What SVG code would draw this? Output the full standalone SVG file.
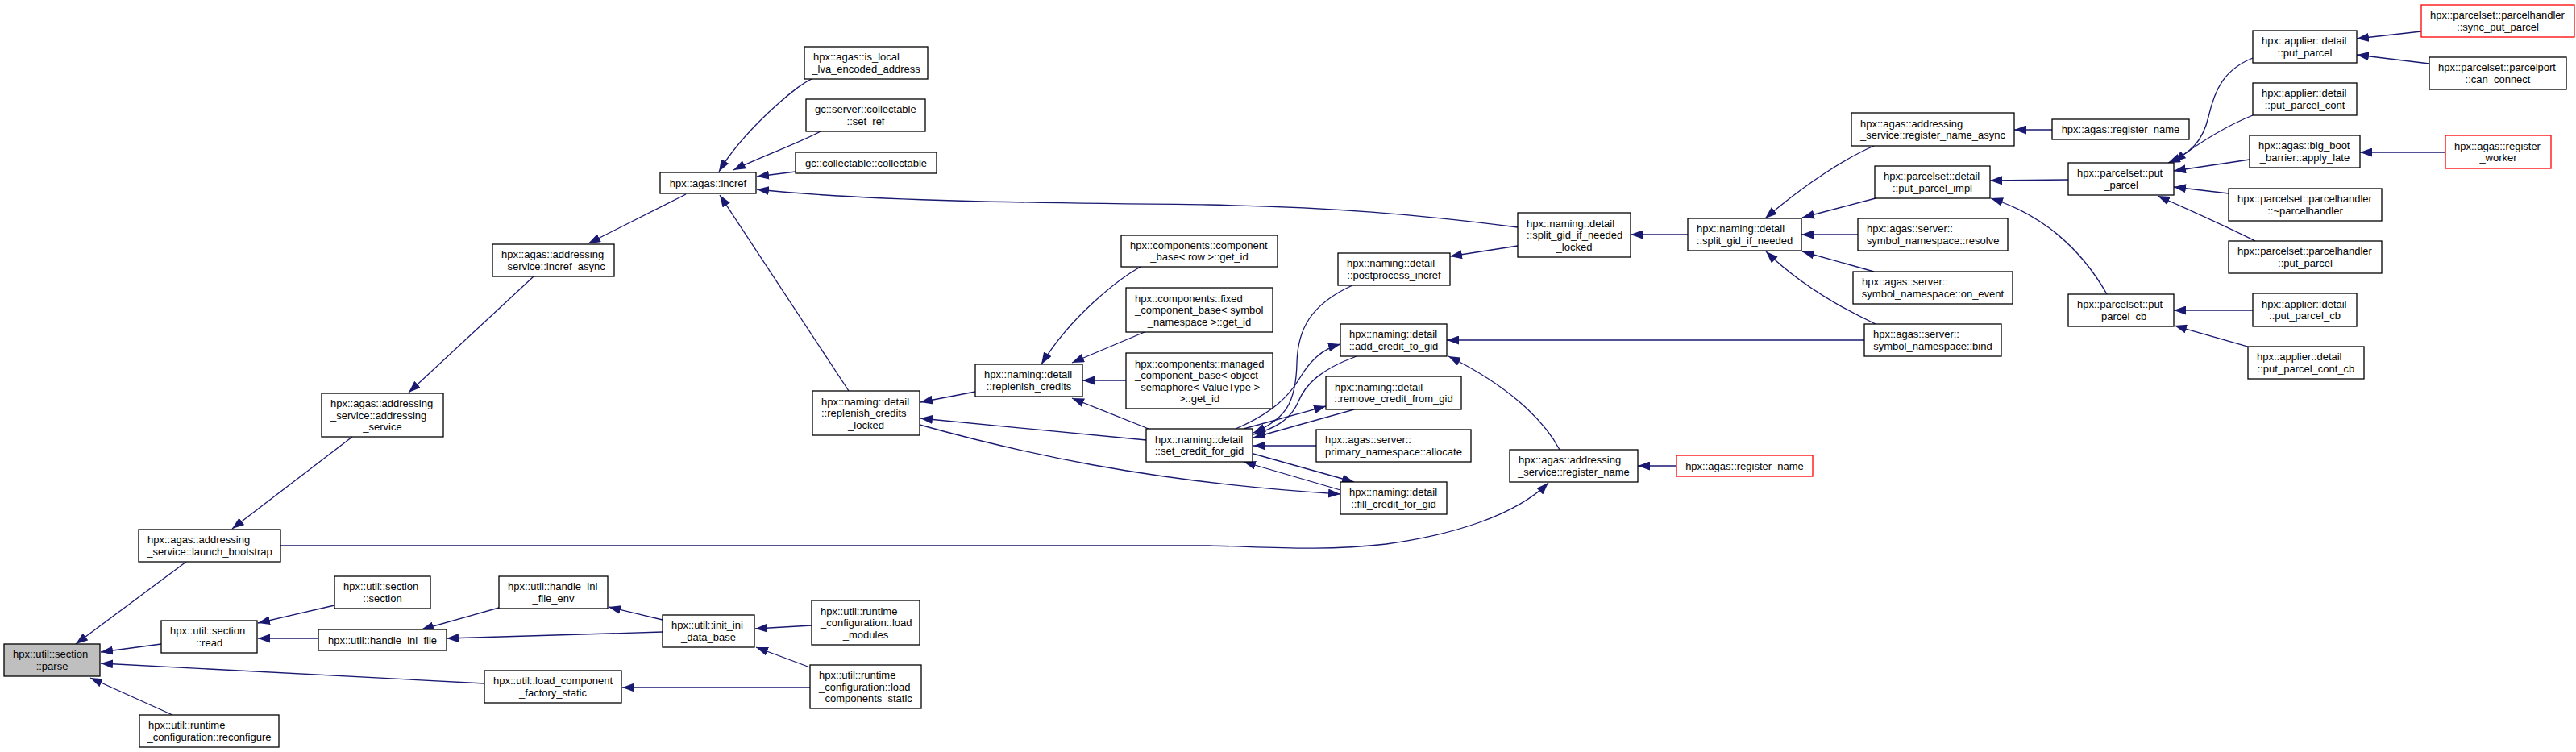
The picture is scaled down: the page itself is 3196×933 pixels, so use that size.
<svg xmlns="http://www.w3.org/2000/svg" width="3196" height="933" viewBox="0 0 3196 933">
<defs>
<marker id="ah" markerUnits="userSpaceOnUse" markerWidth="15" markerHeight="11" viewBox="0 0 15 11" refX="15" refY="5.5" orient="auto"><path d="M0,0 L15,5.5 L0,11 z" fill="#191970"/></marker>
<style>
.n rect{fill:#fff;stroke:#000;stroke-width:1.3}
.r rect{stroke:#f00}
.g rect{fill:#bfbfbf}
text{font-family:"Liberation Sans",Arial,Helvetica,sans-serif;font-size:13px;fill:#000}
.c{text-anchor:middle}
#edges path{fill:none;stroke:#191970;stroke-width:1.3;marker-end:url(#ah)}
</style>
</defs>
<rect width="3196" height="933" fill="#fff"/>
<g id="edges">
<path d="M231,697 L94,799"/>
<path d="M200,799 L125,809"/>
<path d="M601,848 L125,823"/>
<path d="M214,887 L112,841"/>
<path d="M437,542 L288,656"/>
<path d="M662,343 L507,487"/>
<path d="M851,241 L730,302"/>
<path d="M1007,98 C985,108 920,165 892,213"/>
<path d="M1018,163 C990,178 940,196 910,211"/>
<path d="M987,213 L939,219"/>
<path d="M1883,282 C1760,266 1650,257 1500,254 C1300,252 1080,250 939,235"/>
<path d="M1053,485 L893,242"/>
<path d="M1210,486 L1142,499"/>
<path d="M1422,546 L1142,519"/>
<path d="M1141,527 C1260,560 1420,598 1663,613"/>
<path d="M1397,472 L1343,472"/>
<path d="M1415,331 C1390,345 1330,390 1292,452"/>
<path d="M1420,412 L1330,450"/>
<path d="M1425,532 L1330,494"/>
<path d="M1533,532 C1580,512 1600,490 1612,470 C1625,448 1640,433 1663,427"/>
<path d="M1678,354 C1625,378 1610,410 1609,450 C1608,500 1595,520 1555,537"/>
<path d="M1683,442 C1640,458 1620,475 1610,500 C1600,522 1580,532 1555,539"/>
<path d="M1543,532 L1645,504"/>
<path d="M1680,508 L1555,543"/>
<path d="M1633,553 L1555,553"/>
<path d="M1555,563 L1680,598"/>
<path d="M1663,608 L1543,573"/>
<path d="M1883,305 L1799,318"/>
<path d="M2094,291 L2023,291"/>
<path d="M2313,422 L1795,422"/>
<path d="M1935,558 C1915,520 1870,478 1797,442"/>
<path d="M348,677 L1500,677 C1580,679 1640,684 1720,675 C1800,664 1880,640 1921,599"/>
<path d="M2080,578 L2032,578"/>
<path d="M2325,181 C2290,196 2240,228 2190,271"/>
<path d="M2327,246 L2236,270"/>
<path d="M2305,291 L2235,291"/>
<path d="M2325,337 L2236,312"/>
<path d="M2327,402 C2280,380 2230,350 2191,312"/>
<path d="M2546,161 L2499,161"/>
<path d="M2566,223 L2469,224"/>
<path d="M2614,365 C2580,305 2530,265 2470,246"/>
<path d="M2795,72 C2760,86 2748,110 2740,145 C2733,175 2718,190 2690,202"/>
<path d="M2795,143 C2765,155 2735,172 2697,201"/>
<path d="M2791,198 L2697,212"/>
<path d="M2765,240 L2697,232"/>
<path d="M2798,299 C2760,280 2720,262 2677,243"/>
<path d="M3004,39 L2924,48"/>
<path d="M3014,79 L2924,68"/>
<path d="M3034,189 L2928,189"/>
<path d="M2795,385 L2697,385"/>
<path d="M2789,430 L2698,404"/>
<path d="M415,751 L320,773"/>
<path d="M395,792 L320,792"/>
<path d="M619,754 L523,781"/>
<path d="M822,784 L554,792"/>
<path d="M822,769 L755,753"/>
<path d="M1007,776 L937,780"/>
<path d="M1005,828 L938,803"/>
<path d="M1005,853 L772,853"/>
</g>
<g id="parse" class="n g"><rect x="5" y="799" width="119" height="40"/><text><tspan x="16" y="816">hpx::util::section</tspan><tspan class="c" x="64.5" y="831">::parse</tspan></text></g>
<g id="launch_bootstrap" class="n"><rect x="172" y="657" width="176" height="40"/><text><tspan x="183" y="674">hpx::agas::addressing</tspan><tspan class="c" x="260" y="689">_service::launch_bootstrap</tspan></text></g>
<g id="section_read" class="n"><rect x="200" y="770" width="119" height="40"/><text><tspan x="211" y="787">hpx::util::section</tspan><tspan class="c" x="259.5" y="802">::read</tspan></text></g>
<g id="load_component_factory_static" class="n"><rect x="601" y="832" width="170" height="40"/><text><tspan x="612" y="849">hpx::util::load_component</tspan><tspan class="c" x="686" y="864">_factory_static</tspan></text></g>
<g id="reconfigure" class="n"><rect x="173" y="887" width="173" height="40"/><text><tspan x="184" y="904">hpx::util::runtime</tspan><tspan class="c" x="259.5" y="919">_configuration::reconfigure</tspan></text></g>
<g id="addressing_service" class="n"><rect x="399" y="488" width="151" height="54"/><text><tspan x="410" y="505">hpx::agas::addressing</tspan><tspan x="410" y="519.5">_service::addressing</tspan><tspan class="c" x="474.5" y="534">_service</tspan></text></g>
<g id="incref_async" class="n"><rect x="611" y="303" width="151" height="40"/><text><tspan x="622" y="320">hpx::agas::addressing</tspan><tspan class="c" x="686.5" y="335">_service::incref_async</tspan></text></g>
<g id="incref" class="n"><rect x="819" y="214" width="119" height="26"/><text class="c" x="878.5" y="231.5">hpx::agas::incref</text></g>
<g id="is_local" class="n"><rect x="998" y="58" width="153" height="40"/><text><tspan x="1009" y="75">hpx::agas::is_local</tspan><tspan class="c" x="1074.5" y="90">_lva_encoded_address</tspan></text></g>
<g id="set_ref" class="n"><rect x="1000" y="123" width="148" height="40"/><text><tspan x="1011" y="140">gc::server::collectable</tspan><tspan class="c" x="1074" y="155">::set_ref</tspan></text></g>
<g id="collectable" class="n"><rect x="987" y="189" width="175" height="26"/><text class="c" x="1074.5" y="206.5">gc::collectable::collectable</text></g>
<g id="replenish_credits_locked" class="n"><rect x="1008" y="485" width="133" height="55"/><text><tspan x="1019" y="502.5">hpx::naming::detail</tspan><tspan x="1019" y="517">::replenish_credits</tspan><tspan class="c" x="1074.5" y="531.5">_locked</tspan></text></g>
<g id="replenish_credits" class="n"><rect x="1210" y="452" width="133" height="40"/><text><tspan x="1221" y="469">hpx::naming::detail</tspan><tspan class="c" x="1276.5" y="484">::replenish_credits</tspan></text></g>
<g id="component_get_id" class="n"><rect x="1391" y="292" width="194" height="39"/><text><tspan x="1402" y="308.5">hpx::components::component</tspan><tspan class="c" x="1488" y="323">_base&lt; row &gt;::get_id</tspan></text></g>
<g id="fixed_get_id" class="n"><rect x="1397" y="357" width="182" height="55"/><text><tspan x="1408" y="374.5">hpx::components::fixed</tspan><tspan x="1408" y="389">_component_base&lt; symbol</tspan><tspan class="c" x="1488" y="403.5">_namespace &gt;::get_id</tspan></text></g>
<g id="managed_get_id" class="n"><rect x="1397" y="438" width="182" height="69"/><text><tspan x="1408" y="455.5">hpx::components::managed</tspan><tspan x="1408" y="470">_component_base&lt; object</tspan><tspan x="1408" y="484.5">_semaphore&lt; ValueType &gt;</tspan><tspan class="c" x="1488" y="499">&gt;::get_id</tspan></text></g>
<g id="set_credit_for_gid" class="n"><rect x="1422" y="532" width="132" height="41"/><text><tspan x="1433" y="549.5">hpx::naming::detail</tspan><tspan class="c" x="1488" y="564">::set_credit_for_gid</tspan></text></g>
<g id="postprocess_incref" class="n"><rect x="1660" y="314" width="139" height="40"/><text><tspan x="1671" y="331">hpx::naming::detail</tspan><tspan class="c" x="1729.5" y="346">::postprocess_incref</tspan></text></g>
<g id="add_credit_to_gid" class="n"><rect x="1663" y="402" width="132" height="40"/><text><tspan x="1674" y="419">hpx::naming::detail</tspan><tspan class="c" x="1729" y="434">::add_credit_to_gid</tspan></text></g>
<g id="remove_credit_from_gid" class="n"><rect x="1645" y="467" width="168" height="41"/><text><tspan x="1656" y="484.5">hpx::naming::detail</tspan><tspan class="c" x="1729" y="499">::remove_credit_from_gid</tspan></text></g>
<g id="allocate" class="n"><rect x="1633" y="533" width="192" height="40"/><text><tspan x="1644" y="550">hpx::agas::server::</tspan><tspan class="c" x="1729" y="565">primary_namespace::allocate</tspan></text></g>
<g id="fill_credit_for_gid" class="n"><rect x="1663" y="598" width="132" height="40"/><text><tspan x="1674" y="615">hpx::naming::detail</tspan><tspan class="c" x="1729" y="630">::fill_credit_for_gid</tspan></text></g>
<g id="split_gid_if_needed_locked" class="n"><rect x="1883" y="264" width="140" height="55"/><text><tspan x="1894" y="281.5">hpx::naming::detail</tspan><tspan x="1894" y="296">::split_gid_if_needed</tspan><tspan class="c" x="1953" y="310.5">_locked</tspan></text></g>
<g id="as_register_name" class="n"><rect x="1873" y="558" width="159" height="40"/><text><tspan x="1884" y="575">hpx::agas::addressing</tspan><tspan class="c" x="1952.5" y="590">_service::register_name</tspan></text></g>
<g id="register_name_b" class="n r"><rect x="2080" y="565" width="169" height="26"/><text class="c" x="2164.5" y="582.5">hpx::agas::register_name</text></g>
<g id="split_gid_if_needed" class="n"><rect x="2094" y="271" width="141" height="40"/><text><tspan x="2105" y="288">hpx::naming::detail</tspan><tspan class="c" x="2164.5" y="303">::split_gid_if_needed</tspan></text></g>
<g id="register_name_async" class="n"><rect x="2297" y="140" width="202" height="41"/><text><tspan x="2308" y="157.5">hpx::agas::addressing</tspan><tspan class="c" x="2398" y="172">_service::register_name_async</tspan></text></g>
<g id="put_parcel_impl" class="n"><rect x="2326" y="206" width="143" height="40"/><text><tspan x="2337" y="223">hpx::parcelset::detail</tspan><tspan class="c" x="2397.5" y="238">::put_parcel_impl</tspan></text></g>
<g id="resolve" class="n"><rect x="2305" y="271" width="186" height="40"/><text><tspan x="2316" y="288">hpx::agas::server::</tspan><tspan class="c" x="2398" y="303">symbol_namespace::resolve</tspan></text></g>
<g id="on_event" class="n"><rect x="2299" y="337" width="198" height="40"/><text><tspan x="2310" y="354">hpx::agas::server::</tspan><tspan class="c" x="2398" y="369">symbol_namespace::on_event</tspan></text></g>
<g id="bind" class="n"><rect x="2313" y="402" width="170" height="40"/><text><tspan x="2324" y="419">hpx::agas::server::</tspan><tspan class="c" x="2398" y="434">symbol_namespace::bind</tspan></text></g>
<g id="register_name_a" class="n"><rect x="2546" y="148" width="170" height="25"/><text class="c" x="2631" y="165">hpx::agas::register_name</text></g>
<g id="ps_put_parcel" class="n"><rect x="2566" y="202" width="131" height="40"/><text><tspan x="2577" y="219">hpx::parcelset::put</tspan><tspan class="c" x="2631.5" y="234">_parcel</tspan></text></g>
<g id="ps_put_parcel_cb" class="n"><rect x="2566" y="365" width="131" height="40"/><text><tspan x="2577" y="382">hpx::parcelset::put</tspan><tspan class="c" x="2631.5" y="397">_parcel_cb</tspan></text></g>
<g id="ap_put_parcel" class="n"><rect x="2795" y="38" width="129" height="40"/><text><tspan x="2806" y="55">hpx::applier::detail</tspan><tspan class="c" x="2859.5" y="70">::put_parcel</tspan></text></g>
<g id="put_parcel_cont" class="n"><rect x="2795" y="103" width="129" height="40"/><text><tspan x="2806" y="120">hpx::applier::detail</tspan><tspan class="c" x="2859.5" y="135">::put_parcel_cont</tspan></text></g>
<g id="apply_late" class="n"><rect x="2791" y="168" width="137" height="40"/><text><tspan x="2802" y="185">hpx::agas::big_boot</tspan><tspan class="c" x="2859.5" y="200">_barrier::apply_late</tspan></text></g>
<g id="dtor_parcelhandler" class="n"><rect x="2765" y="234" width="190" height="40"/><text><tspan x="2776" y="251">hpx::parcelset::parcelhandler</tspan><tspan class="c" x="2860" y="266">::~parcelhandler</tspan></text></g>
<g id="ph_put_parcel" class="n"><rect x="2765" y="299" width="190" height="40"/><text><tspan x="2776" y="316">hpx::parcelset::parcelhandler</tspan><tspan class="c" x="2860" y="331">::put_parcel</tspan></text></g>
<g id="ap_put_parcel_cb" class="n"><rect x="2795" y="364" width="129" height="41"/><text><tspan x="2806" y="381.5">hpx::applier::detail</tspan><tspan class="c" x="2859.5" y="396">::put_parcel_cb</tspan></text></g>
<g id="put_parcel_cont_cb" class="n"><rect x="2789" y="430" width="144" height="40"/><text><tspan x="2800" y="447">hpx::applier::detail</tspan><tspan class="c" x="2861" y="462">::put_parcel_cont_cb</tspan></text></g>
<g id="sync_put_parcel" class="n r"><rect x="3004" y="6" width="190" height="40"/><text><tspan x="3015" y="23">hpx::parcelset::parcelhandler</tspan><tspan class="c" x="3099" y="38">::sync_put_parcel</tspan></text></g>
<g id="can_connect" class="n"><rect x="3014" y="71" width="170" height="40"/><text><tspan x="3025" y="88">hpx::parcelset::parcelport</tspan><tspan class="c" x="3099" y="103">::can_connect</tspan></text></g>
<g id="register_worker" class="n r"><rect x="3034" y="168" width="131" height="41"/><text><tspan x="3045" y="185.5">hpx::agas::register</tspan><tspan class="c" x="3099.5" y="200">_worker</tspan></text></g>
<g id="section_section" class="n"><rect x="415" y="715" width="119" height="40"/><text><tspan x="426" y="732">hpx::util::section</tspan><tspan class="c" x="474.5" y="747">::section</tspan></text></g>
<g id="handle_ini_file_env" class="n"><rect x="619" y="715" width="135" height="40"/><text><tspan x="630" y="732">hpx::util::handle_ini</tspan><tspan class="c" x="686.5" y="747">_file_env</tspan></text></g>
<g id="handle_ini_file" class="n"><rect x="395" y="781" width="159" height="26"/><text class="c" x="474.5" y="798.5">hpx::util::handle_ini_file</text></g>
<g id="init_ini_data_base" class="n"><rect x="822" y="763" width="114" height="40"/><text><tspan x="833" y="780">hpx::util::init_ini</tspan><tspan class="c" x="879" y="795">_data_base</tspan></text></g>
<g id="load_modules" class="n"><rect x="1007" y="745" width="134" height="55"/><text><tspan x="1018" y="762.5">hpx::util::runtime</tspan><tspan x="1018" y="777">_configuration::load</tspan><tspan class="c" x="1074" y="791.5">_modules</tspan></text></g>
<g id="load_components_static" class="n"><rect x="1005" y="825" width="138" height="54"/><text><tspan x="1016" y="842">hpx::util::runtime</tspan><tspan x="1016" y="856.5">_configuration::load</tspan><tspan class="c" x="1074" y="871">_components_static</tspan></text></g>
</svg>
